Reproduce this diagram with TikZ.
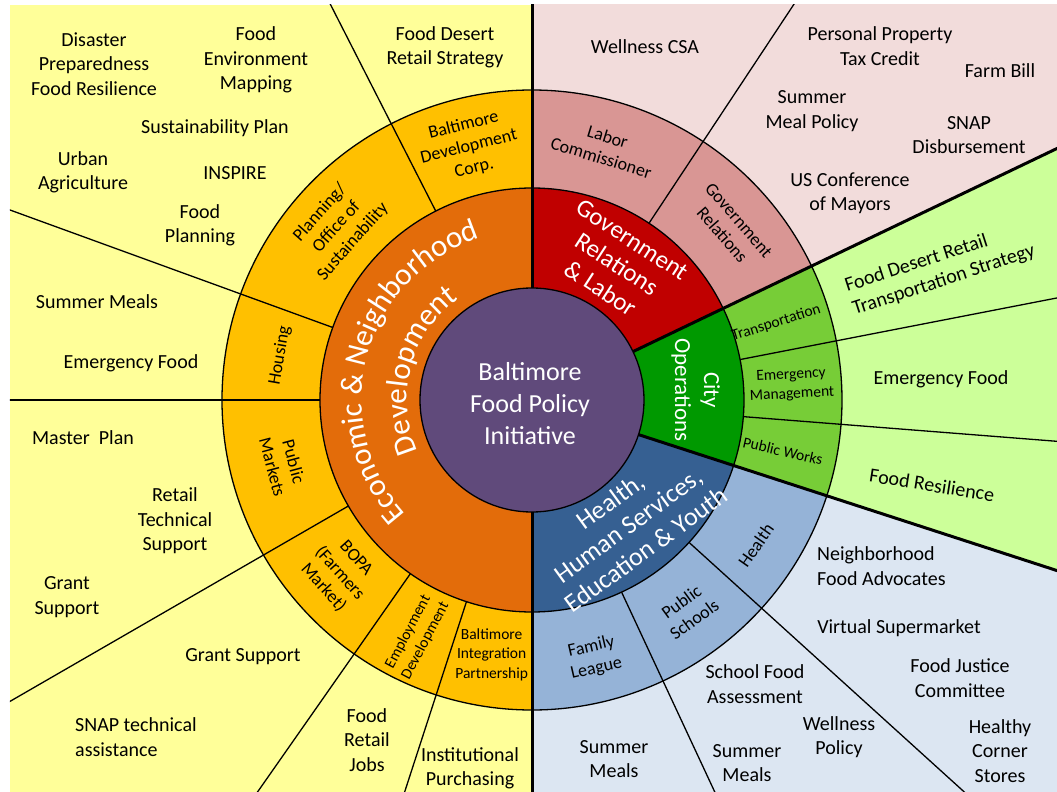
\documentclass[tikz,border=0pt]{standalone}
\usepackage{fontspec}
\setmainfont{Carlito}
\usetikzlibrary{decorations.text}
\definecolor{purp}{RGB}{96,74,123}
\definecolor{orgA}{RGB}{227,108,10}
\definecolor{orgB}{RGB}{255,192,0}
\definecolor{ylw}{RGB}{255,255,153}
\definecolor{redA}{RGB}{192,0,0}
\definecolor{redB}{RGB}{217,150,148}
\definecolor{pnk}{RGB}{242,220,219}
\definecolor{grnA}{RGB}{0,153,0}
\definecolor{grnB}{RGB}{119,205,55}
\definecolor{grnC}{RGB}{204,255,153}
\definecolor{bluA}{RGB}{54,96,146}
\definecolor{bluB}{RGB}{149,179,215}
\definecolor{bluC}{RGB}{220,230,242}
\begin{document}
\begin{tikzpicture}[x=1pt,y=1pt,
  outer/.style={font=\fontsize{20}{24.4}\selectfont, align=center, inner sep=0pt},
  ringlab/.style={font=\fontsize{18}{22}\selectfont, align=center, inner sep=0pt},
  smalllab/.style={font=\fontsize{15.5}{19.5}\selectfont, align=center, inner sep=0pt},
  biglab/.style={font=\fontsize{25}{29}\selectfont, align=center, text=white, inner sep=0pt},
  ringline/.style={draw=black, line width=1.3pt},
  sepline/.style={draw=black, line width=1.3pt},
  bigsep/.style={draw=black, line width=3pt},
]
\useasboundingbox (-532,-392) rectangle (525,400);
\begin{scope}
  \clip (-522,-392) rectangle (525,395);
  % outer backgrounds
  \fill[ylw] (-522,-392) rectangle (0,395);
  \fill[pnk] (0,0) -- (25.6:1500) -- (60:1500) -- (90:1500) -- cycle;
  \fill[grnC] (0,0) -- (25.6:1500) -- (0:1500) -- (-18:1500) -- cycle;
  \fill[bluC] (0,0) -- (-18:1500) -- (-55:1500) -- (-90:1500) -- cycle;
  % third ring
  \filldraw[fill=orgB, ringline] (0,0) -- (90:310) arc[start angle=90, end angle=270, radius=310] -- cycle;
  \filldraw[fill=redB, ringline] (0,0) -- (25.6:310) arc[start angle=25.6, end angle=90, radius=310] -- cycle;
  \filldraw[fill=grnB, ringline] (0,0) -- (-18:310) arc[start angle=-18, end angle=25.6, radius=310] -- cycle;
  \filldraw[fill=bluB, ringline] (0,0) -- (-90:310) arc[start angle=-90, end angle=-18, radius=310] -- cycle;
  % second ring
  \filldraw[fill=orgA, ringline] (0,0) -- (90:212) arc[start angle=90, end angle=270, radius=212] -- cycle;
  \filldraw[fill=redA, ringline] (0,0) -- (25.6:212) arc[start angle=25.6, end angle=90, radius=212] -- cycle;
  \filldraw[fill=grnA, ringline] (0,0) -- (-18:212) arc[start angle=-18, end angle=25.6, radius=212] -- cycle;
  \filldraw[fill=bluA, ringline] (0,0) -- (-90:212) arc[start angle=-90, end angle=-18, radius=212] -- cycle;
  % separators
  \foreach \a in {117,160,180,210,235,252,56.5,11,-4.5,-42.2,-65}
    \draw[sepline] (\a:212) -- (\a:1500);
  \foreach \a in {90,-90,25.6,-18}
    \draw[bigsep] (\a:112) -- (\a:1500);
\end{scope}
\filldraw[fill=purp, ringline] (0,0) circle[radius=112];

% centre
\node[font=\fontsize{26}{32}\selectfont, align=center, text=white, inner sep=0pt] (bfpi) at (-2,-4) {Baltimore\\Food Policy\\Initiative};

% second ring labels
\path[decorate, decoration={text along path, text align=center, text color=white,
  text={|\fontsize{31}{31}\selectfont|Economic {\&} Neighborhood}}]
  (255:170) arc[start angle=255, end angle=75, radius=170];
\path[decorate, decoration={text along path, text align=center, text color=white,
  text={|\fontsize{31}{31}\selectfont|Development}}]
  (255:125) arc[start angle=255, end angle=75, radius=125];
\node[biglab, rotate=-33] (grl) at (58:160) {Government\\Relations\\\& Labor};
\node[font=\fontsize{23}{29}\selectfont, align=center, text=white, inner sep=0pt, rotate=-90] (cops) at (3.5:164) {City\\Operations};
\node[font=\fontsize{26}{30}\selectfont, align=center, text=white, inner sep=0pt, rotate=36] (hhs) at (-52.5:158) {Health,\\Human Services,\\Education \& Youth};

% third ring labels
\node[ringlab, rotate=14] (bdc) at (104:261) {Baltimore\\Development\\Corp.};
\node[ringlab, rotate=48.5] (plan) at (138.5:261) {Planning/\\Office of\\Sustainability};
\node[ringlab, rotate=80] (hous) at (170:256) {Housing};
\node[ringlab, rotate=-75] (pubm) at (194.5:257) {Public\\Markets};
\node[ringlab, rotate=-48] (bopa) at (222:259) {BOPA\\(Farmers\\Market)};
\node[smalllab, rotate=62] (empd) at (244:263) {Employment\\Development};
\node[smalllab] (bip) at (261:258) {Baltimore\\Integration\\Partnership};
\node[ringlab, rotate=-17] (labc) at (74:263) {Labor\\Commissioner};
\node[ringlab, rotate=-49] (govr) at (41:263) {Government\\Relations};
\node[smalllab, rotate=17.5] (trans) at (17.5:256) {Transportation};
\node[smalllab, rotate=3] (emgm) at (3.3:260) {Emergency\\Management};
\node[smalllab, rotate=-13] (pubw) at (-11.5:256) {Public Works};
\node[ringlab, rotate=55] (hlth) at (-33:267) {Health};
\node[ringlab, rotate=36] (pubs) at (-53.5:262) {Public\\Schools};
\node[ringlab, rotate=13] (faml) at (-76.5:265) {Family\\League};

% outer texts: economic & neighborhood development
\node[outer] (o1) at (-438,336) {Disaster\\Preparedness\\Food Resilience};
\node[outer] (o2) at (-276,340) {Food\\Environment\\Mapping};
\node[outer] (o3) at (-317,272) {Sustainability Plan};
\node[outer] (o4) at (-449,228) {Urban\\Agriculture};
\node[outer] (o5) at (-297,227) {INSPIRE};
\node[outer] (o6) at (-332,175) {Food\\Planning};
\node[outer] (o7) at (-87,353) {Food Desert\\Retail Strategy};
\node[outer] (o8) at (-435,98) {Summer Meals};
\node[outer] (o9) at (-401,37) {Emergency Food};
\node[outer] (o10) at (-449,-38) {Master\ \ Plan};
\node[outer] (o11) at (-357,-121) {Retail\\Technical\\Support};
\node[outer] (o12) at (-465,-197) {Grant\\Support};
\node[outer] (o13) at (-289,-257) {Grant Support};
\node[outer, align=left, anchor=west] (o14) at (-457,-337) {SNAP technical\\assistance};
\node[outer] (o15) at (-165,-340) {Food\\Retail\\Jobs};
\node[outer] (o16) at (-62,-368) {Institutional\\Purchasing};
% government relations
\node[outer] (p1) at (113,353) {Wellness CSA};
\node[outer] (p2) at (348,354) {Personal Property\\Tax Credit};
\node[outer] (p3) at (468,329) {Farm Bill};
\node[outer] (p4) at (280,289) {Summer\\Meal Policy};
\node[outer] (p5) at (437,265) {SNAP\\Disbursement};
\node[outer] (p6) at (318,207) {US Conference\\of Mayors};
% city operations
\node[outer, align=left, rotate=18] (g1) at (408,131) {Food Desert Retail\\Transportation Strategy};
\node[outer] (g2) at (409,21) {Emergency Food};
\node[outer, rotate=-9] (g3) at (400,-85) {Food Resilience};
% health
\node[outer, align=left, anchor=west] (b1) at (285,-166) {Neighborhood\\Food Advocates};
\node[outer] (b2) at (367,-228) {Virtual Supermarket};
\node[outer] (b3) at (428,-278) {Food Justice\\Committee};
\node[outer] (b4) at (468,-351) {Healthy\\Corner\\Stores};
\node[outer] (b5) at (223,-284) {School Food\\Assessment};
\node[outer] (b6) at (307,-337) {Wellness\\Policy};
\node[outer] (b7) at (215,-363) {Summer\\Meals};
\node[outer] (b8) at (82,-359) {Summer\\Meals};
\end{tikzpicture}
\end{document}
